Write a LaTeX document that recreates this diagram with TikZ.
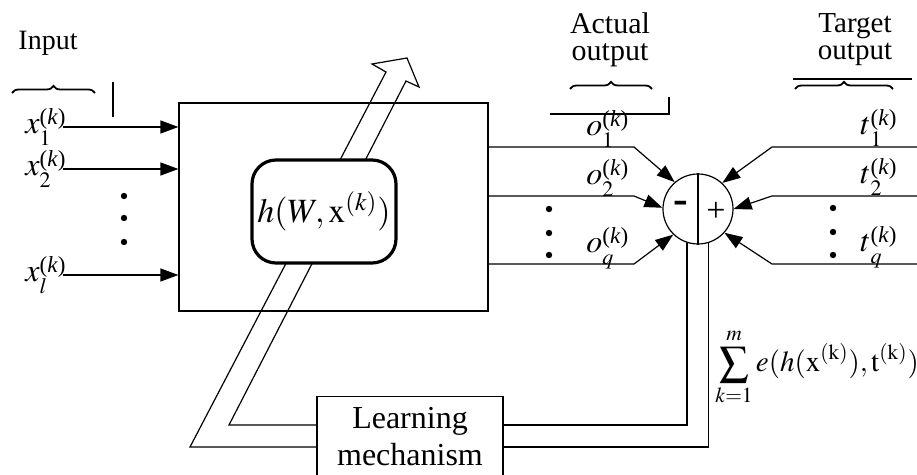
\documentclass[tikz,border=0pt]{standalone}
\usepackage{mathptmx}
\usepackage{fontspec}
\setmainfont{Liberation Serif}
\usetikzlibrary{arrows.meta,positioning,decorations.pathreplacing}
\newcommand{\sig}[2]{$#1$\rlap{\raisebox{-0.36em}{\fontsize{11}{11}\selectfont$#2$}}%
\raisebox{0.3em}{\fontsize{11.5}{11.5}\selectfont(\textit{k})}}

\begin{document}
\begin{tikzpicture}[
x=0.5pt,y=-0.5pt,
every node/.style={font=\fontsize{15}{13}\selectfont},
box/.style={draw,line width=0.6pt,inner sep=0pt,align=center},
core/.style={box,line width=1.6pt,rounded corners=12pt,fill=white,
minimum width=72pt,minimum height=51.5pt,font=\fontsize{17}{17}\selectfont},
sumnode/.style={draw,circle,line width=0.6pt,minimum size=35pt,inner sep=0pt},
lab/.style={inner sep=0pt,anchor=base west,font=\fontsize{16}{16}\selectfont},
wire/.style={line width=0.6pt},
arr/.style={wire,-{Triangle[length=9pt,width=6.5pt]}},
brc/.style={decorate,decoration={brace,amplitude=3.5pt},line width=0.9pt}
]
\useasboundingbox (0,0) rectangle (917,475);
\clip (0,0) rectangle (917,475);

% blocks
\node[box,minimum width=154.5pt,minimum height=104pt] (net) at (333.5,207) {};
\node[box,anchor=north,minimum width=93pt,minimum height=40pt,fill=white,
font=\fontsize{16}{18.5}\selectfont] (lm) at (410,396) {Learning\\mechanism};
\node[sumnode] (sum) at (698,209) {};

% weight update arrow
\draw[wire] (lm.west |- 0,447) -- (190,447) -- (386,72) -- (372,64) -- (407,58)
  -- (419,87) -- (406,81) -- (229,425) -- (lm.west |- 0,425);
\node[core] (h) at (324,211.5) {$h(W,\mathrm{x}^{(k)})$};

% inputs
\node[font=\fontsize{14}{14}\selectfont] (inp) at (48,43) {Input};
\draw[brc] (12,93) -- (95,93);
\draw[wire] (113,82) -- (113,117);
\foreach \n/\y/\ix in {1/127/1,2/169/2,3/275/l} {
  \coordinate (in\n) at (63,\y);
  \node[lab] (x\n) at (25,\y+7) {\sig{x}{\ix}};
  \draw[arr] (in\n) -- (in\n -| net.west);
}
\foreach \y in {196,218,242} \fill (124,\y) circle (1.6pt);

% actual outputs
\node[align=center,font=\fontsize{15}{13.5}\selectfont] (act) at (610,40) {Actual\\output};
\draw[brc] (570,89) -- (652,89);
\draw[wire] (550,114) -| (669,97);
\foreach \n/\y/\ix/\a in {1/147/1/131,2/196/2/178,3/264/q/226} {
  \coordinate (o\n) at (634,\y);
  \draw[arr] (o\n -| net.east) -- (o\n) -- (sum.\a);
  \node[lab] (ol\n) at (586,\y-11) {\sig{o}{\ix}};
}
\foreach \y in {209,233,255} \fill (549,\y) circle (1.6pt);

% target outputs
\node[align=center,font=\fontsize{14.5}{13.5}\selectfont] (tgt) at (855,40) {Target\\output};
\draw[wire] (793,79) -- (912,79);
\draw[brc] (795,89) -- (893,89);
\foreach \n/\y/\ix/\a in {1/147/1/47,2/196/2/0,3/264/q/-42} {
  \coordinate (t\n) at (772,\y);
  \coordinate (te\n) at (917,\y);
  \draw[arr] (te\n) -- (t\n) -- (sum.\a);
  \node[lab] (tl\n) at (860,\y-12) {\sig{t}{\ix}};
}
\foreach \y in {208,232,255} \fill (833,\y) circle (1.6pt);

% comparator
\draw[wire] (sum.north) -- (sum.south);
\node[font=\fontsize{22}{22}\selectfont\bfseries] (minus) at (681,207) {-};
\node[font=\fontsize{17}{17}\selectfont] (plus) at (716,212) {+};

% error feedback
\draw[wire] (sum.-108) |- (lm.east |- 0,425);
\draw[wire] (sum.-73) |- (lm.east |- 0,447);
\node[anchor=west,inner sep=0pt,font=\fontsize{14.5}{14.5}\selectfont] (err) at (715,367)
  {$\displaystyle\sum_{k=1}^{m} e(h(\mathrm{x}^{(\mathrm{k})}),\mathrm{t}^{(\mathrm{k})})$};
\end{tikzpicture}
\end{document}
